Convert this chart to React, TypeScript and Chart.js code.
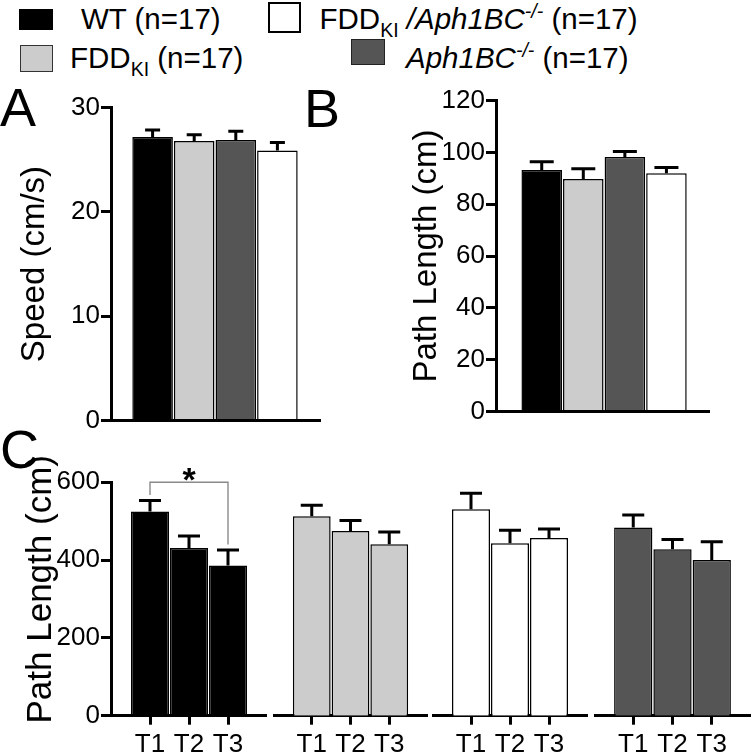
import React, { useEffect, useRef } from "react";
import { Chart, registerables } from "chart.js";

Chart.register(...registerables);

const FONT = "'Liberation Sans', Arial, Helvetica, sans-serif";

// ---------------- data ----------------
const abGroups = ["WT", "FDDKI", "Aph1BC-/-", "FDDKI/Aph1BC-/-"];
const abColors = ["#000000", "#cccccc", "#555555", "#ffffff"];
const speedMean = [27.2, 26.8, 26.9, 25.9];
const speedSem = [0.65, 0.6, 0.85, 0.75];
const speedTicks = [0, 10, 20, 30];
const pathMean = [93.2, 89.8, 98.3, 92.0];
const pathSem = [3.2, 3.9, 2.1, 2.2];
const pathTicks = [0, 20, 40, 60, 80, 100, 120];

const trialLabels = ["T1", "T2", "T3"];
const trialTicks = [0, 200, 400, 600];
const wtTrial = [525, 431, 386];
const wtTrialSem = [28, 31, 40];
const fddTrial = [513, 475, 441];
const fddTrialSem = [28, 27, 31];
const dkoTrial = [531, 443, 457];
const dkoTrialSem = [41, 34, 23];
const aphTrial = [484, 428, 400];
const aphTrialSem = [32, 25, 47];
const sigPair = [0, 2];
const sigMark = "*";

// ---------------- chart builder ----------------
type Cfg = {
  left: number;
  top: number;
  w: number;
  h: number;
  labels: string[];
  values: number[];
  sems: number[];
  colors: string[];
  yTicks: number[];
  showY: boolean;
  yTitle?: string;
  titleSize?: number;
  titlePad?: number;
  yWidth: number;
  xMin: number;
  xMax: number;
  showXTicks: boolean;
  pad: { top: number; right: number; bottom: number; left: number };
  xHeight: number;
  capW: number;
  sig?: { from: number; to: number; mark: string };
};

function build(canvas: HTMLCanvasElement, c: Cfg) {
  const data = c.values.map((v, i) => ({ x: i, y: v }));
  const errPlugin = {
    id: "errbars",
    afterDatasetsDraw(chart: any) {
      const meta = chart.getDatasetMeta(0);
      const ys = chart.scales.y;
      const ctx = chart.ctx as CanvasRenderingContext2D;
      ctx.save();
      ctx.strokeStyle = "#000";
      ctx.lineWidth = 3;
      const tops: number[] = [];
      const xs: number[] = [];
      meta.data.forEach((el: any, i: number) => {
        const { x, y } = el.getProps(["x", "y"], true);
        const t = ys.getPixelForValue(c.values[i] + c.sems[i]);
        tops.push(t);
        xs.push(x);
        ctx.beginPath();
        ctx.moveTo(x, y);
        ctx.lineTo(x, t);
        ctx.moveTo(x - c.capW / 2, t);
        ctx.lineTo(x + c.capW / 2, t);
        ctx.stroke();
      });
      if (c.sig) {
        const lvl = ys.getPixelForValue(c.yTicks[c.yTicks.length - 1]);
        const x1 = xs[c.sig.from];
        const x2 = xs[c.sig.to];
        ctx.strokeStyle = "#8a8a8a";
        ctx.lineWidth = 1.4;
        ctx.beginPath();
        ctx.moveTo(x1, tops[c.sig.from] - 5.5);
        ctx.lineTo(x1, lvl);
        ctx.lineTo(x2, lvl);
        ctx.lineTo(x2, tops[c.sig.to] - 5.5);
        ctx.stroke();
        ctx.fillStyle = "#000";
        ctx.font = "bold 34px " + FONT;
        ctx.textAlign = "center";
        ctx.textBaseline = "alphabetic";
        ctx.fillText(c.sig.mark, (x1 + x2) / 2, lvl + 8.5);
      }
      ctx.restore();
    },
  };

  return new Chart(canvas, {
    type: "bar",
    data: {
      datasets: [
        {
          data: data as any,
          backgroundColor: c.colors,
          borderColor: "#000",
          borderWidth: 1.5,
          barPercentage: 0.975,
          categoryPercentage: 1,
        } as any,
      ],
    },
    options: {
      responsive: false,
      animation: false,
      events: [],
      layout: { padding: c.pad },
      plugins: {
        legend: { display: false },
        tooltip: { enabled: false },
        title: { display: false },
      },
      scales: {
        x: {
          type: "linear",
          min: c.xMin,
          max: c.xMax,
          offset: false,
          afterBuildTicks: (ax: any) => {
            ax.ticks = c.labels.map((_, i) => ({ value: i }));
          },
          afterFit: (ax: any) => {
            ax.height = c.xHeight;
          },
          ticks: {
            display: c.showXTicks,
            autoSkip: false,
            maxRotation: 0,
            minRotation: 0,
            font: { size: 26, family: FONT },
            color: "#000",
            padding: 5,
            callback: (v: any) => c.labels[Number(v)] ?? "",
          },
          grid: {
            display: true,
            offset: false,
            drawOnChartArea: false,
            drawTicks: c.showXTicks,
            tickLength: 9,
            lineWidth: 3,
            color: "#000",
          },
          border: { display: true, width: 3, color: "#000" },
        } as any,
        y: {
          type: "linear",
          display: c.showY,
          min: c.yTicks[0],
          max: c.yTicks[c.yTicks.length - 1],
          afterBuildTicks: (ax: any) => {
            ax.ticks = c.yTicks.map((v) => ({ value: v }));
          },
          afterFit: (ax: any) => {
            ax.width = c.yWidth;
          },
          ticks: {
            font: { size: 26, family: FONT },
            color: "#000",
            padding: 1,
          },
          grid: {
            offset: false,
            drawOnChartArea: false,
            drawTicks: true,
            tickLength: 10,
            lineWidth: 3,
            color: "#000",
          },
          border: { display: true, width: 3, color: "#000" },
          title: {
            display: !!c.yTitle,
            text: c.yTitle || "",
            font: { size: c.titleSize || 33, family: FONT },
            color: "#000",
            padding: { top: c.titlePad || 0, bottom: 0 },
          },
        } as any,
      },
    },
    plugins: [errPlugin],
  });
}

function BarPanel(props: Cfg) {
  const ref = useRef<HTMLCanvasElement>(null);
  useEffect(() => {
    const chart = build(ref.current as HTMLCanvasElement, props);
    return () => chart.destroy();
  }, []);
  return (
    <canvas
      ref={ref}
      width={props.w}
      height={props.h}
      style={{ position: "absolute", left: props.left, top: props.top, width: props.w, height: props.h }}
    />
  );
}

// ---------------- layout ----------------
const panelA: Cfg = {
  left: 0, top: 80, w: 330, h: 357,
  labels: abGroups, values: speedMean, sems: speedSem, colors: abColors,
  yTicks: speedTicks, showY: true, yTitle: "Speed (cm/s)", titleSize: 33, titlePad: 15,
  yWidth: 111, xMin: -1, xMax: 4, showXTicks: false,
  pad: { top: 27.7, right: 11, bottom: 0, left: 0 }, xHeight: 16.3, capW: 15,
};

const panelB: Cfg = {
  left: 380, top: 80, w: 340, h: 348,
  labels: abGroups, values: pathMean, sems: pathSem, colors: abColors,
  yTicks: pathTicks, showY: true, yTitle: "Path Length (cm)", titleSize: 33, titlePad: 27,
  yWidth: 116, xMin: -1.1, xMax: 4, showXTicks: false,
  pad: { top: 20.7, right: 12, bottom: 0, left: 0 }, xHeight: 16.3, capW: 24,
};

const cCommon = {
  top: 420, h: 336, labels: trialLabels, yTicks: trialTicks,
  xMin: -1, xMax: 3, showXTicks: true, xHeight: 40.3, capW: 22,
};

const panelC1: Cfg = {
  ...cCommon, left: 0, w: 267,
  values: wtTrial, sems: wtTrialSem, colors: ["#000000", "#000000", "#000000"],
  showY: true, yTitle: "  Path Length (cm)", titleSize: 35, titlePad: 20, yWidth: 111,
  pad: { top: 62.3, right: 0, bottom: 0, left: 0 },
  sig: { from: sigPair[0], to: sigPair[1], mark: sigMark },
};
const panelC2: Cfg = {
  ...cCommon, left: 273, w: 155,
  values: fddTrial, sems: fddTrialSem, colors: ["#cccccc", "#cccccc", "#cccccc"],
  showY: false, yWidth: 0, pad: { top: 62.3, right: 0, bottom: 0, left: 0 },
};
const panelC3: Cfg = {
  ...cCommon, left: 432, w: 156,
  values: dkoTrial, sems: dkoTrialSem, colors: ["#ffffff", "#ffffff", "#ffffff"],
  showY: false, yWidth: 0, pad: { top: 62.3, right: 0, bottom: 0, left: 0 },
};
const panelC4: Cfg = {
  ...cCommon, left: 594, w: 157,
  values: aphTrial, sems: aphTrialSem, colors: ["#555555", "#555555", "#555555"],
  showY: false, yWidth: 0, pad: { top: 62.3, right: 0, bottom: 0, left: 0 },
};

const txt: React.CSSProperties = {
  position: "absolute",
  fontFamily: FONT,
  fontSize: 29.5,
  lineHeight: "29.5px",
  whiteSpace: "nowrap",
  color: "#000",
};
const sub: React.CSSProperties = { fontSize: 19.5, position: "relative", top: 8, lineHeight: 0 };
const sup: React.CSSProperties = { fontSize: 19.5, position: "relative", top: -11, lineHeight: 0, fontStyle: "italic" };
const letter: React.CSSProperties = {
  position: "absolute",
  fontFamily: FONT,
  fontSize: 54,
  lineHeight: "54px",
  color: "#000",
};

function Box(p: { left: number; top: number; w: number; h: number; bg: string; border?: string }) {
  return (
    <div
      style={{
        position: "absolute",
        left: p.left,
        top: p.top,
        width: p.w,
        height: p.h,
        background: p.bg,
        border: p.border || "none",
        boxSizing: "border-box",
      }}
    />
  );
}

export default function App() {
  return (
    <div style={{ position: "absolute", left: 0, top: 0, width: 751, height: 756, overflow: "hidden", background: "#fff" }}>
      {/* legend */}
      <Box left={19} top={9} w={34} h={21} bg="#000000" />
      <div style={{ ...txt, left: 81, top: 4 }}>WT (n=17)</div>
      <Box left={268} top={2} w={33} h={31} bg="#ffffff" border="2px solid #000" />
      <div style={{ ...txt, left: 319.5, top: 4 }}>
        FDD<span style={sub}>KI</span> <i>/Aph1BC</i>
        <span style={sup}>-/-</span> (n=17)
      </div>
      <Box left={20} top={45} w={33} h={27} bg="#cccccc" border="1.5px solid #333" />
      <div style={{ ...txt, left: 70, top: 42.5 }}>
        FDD<span style={sub}>KI</span> (n=17)
      </div>
      <Box left={351} top={39} w={34} h={26} bg="#555555" border="1.5px solid #222" />
      <div style={{ ...txt, left: 406, top: 42.5 }}>
        <i>Aph1BC</i>
        <span style={sup}>-/-</span> (n=17)
      </div>

      <BarPanel {...panelA} />
      <BarPanel {...panelB} />
      <BarPanel {...panelC1} />
      <BarPanel {...panelC2} />
      <BarPanel {...panelC3} />
      <BarPanel {...panelC4} />

      <div style={{ ...letter, left: 0, top: 80 }}>A</div>
      <div style={{ ...letter, left: 304, top: 81 }}>B</div>
      <div style={{ ...letter, left: 0, top: 421.5 }}>C</div>
    </div>
  );
}
